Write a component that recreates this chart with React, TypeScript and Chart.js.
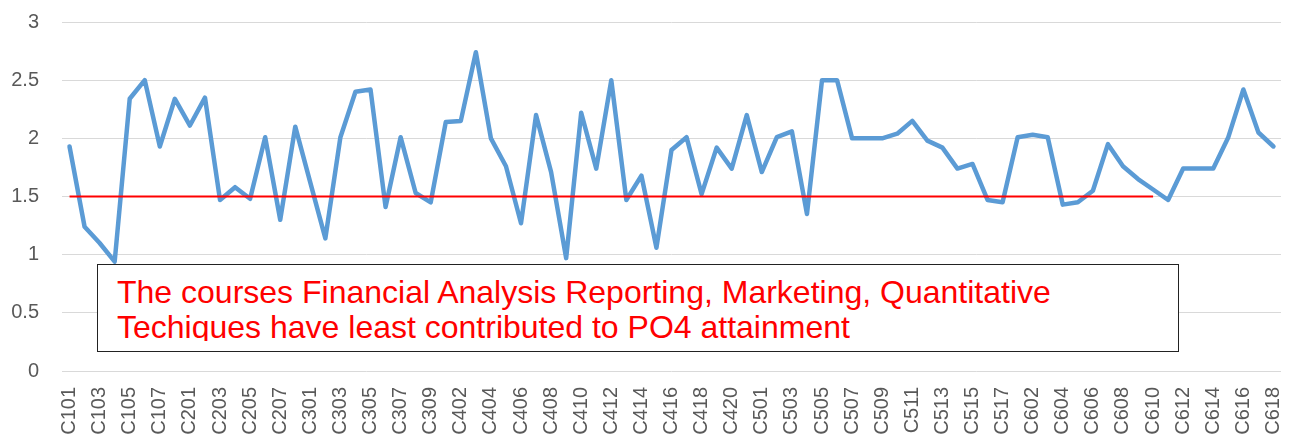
import React, { useEffect, useRef } from "react";
import { Chart, registerables } from "chart.js";

Chart.register(...registerables);

const courseCodes: string[] = [
  "C101", "C102", "C103", "C104", "C105", "C106", "C107", "C108",
  "C201", "C202", "C203", "C204", "C205", "C206", "C207", "C208",
  "C301", "C302", "C303", "C304", "C305", "C306", "C307", "C308", "C309",
  "C401", "C402", "C403", "C404", "C405", "C406", "C407", "C408", "C409", "C410",
  "C411", "C412", "C413", "C414", "C415", "C416", "C417", "C418", "C419", "C420", "C421",
  "C501", "C502", "C503", "C504", "C505", "C506", "C507", "C508", "C509", "C510",
  "C511", "C512", "C513", "C514", "C515", "C516", "C517",
  "C601", "C602", "C603", "C604", "C605", "C606", "C607", "C608", "C609", "C610",
  "C611", "C612", "C613", "C614", "C615", "C616", "C617", "C618",
];

const po4Attainment: number[] = [
  1.93, 1.24, 1.10, 0.94, 2.34, 2.50, 1.93, 2.34,
  2.11, 2.35, 1.47, 1.58, 1.48, 2.01, 1.30, 2.10,
  1.62, 1.14, 2.01, 2.40, 2.42, 1.41, 2.01, 1.53, 1.45,
  2.14, 2.15, 2.74, 2.00, 1.76, 1.27, 2.20, 1.71, 0.97, 2.22,
  1.74, 2.50, 1.47, 1.68, 1.06, 1.90, 2.01, 1.52, 1.92, 1.74, 2.20,
  1.71, 2.01, 2.06, 1.35, 2.50, 2.50, 2.00, 2.00, 2.00, 2.04,
  2.15, 1.98, 1.92, 1.74, 1.78, 1.47, 1.45,
  2.01, 2.03, 2.01, 1.43, 1.45, 1.55, 1.95, 1.76, 1.65, 1.56,
  1.47, 1.74, 1.74, 1.74, 2.01, 2.42, 2.05, 1.93,
];

const thresholdValue = 1.5;
const thresholdEndCourse = "C610";

const yTicks: number[] = [0, 0.5, 1, 1.5, 2, 2.5, 3];

const noteLines: string[] = [
  "The courses Financial Analysis Reporting, Marketing, Quantitative",
  "Techiques have least contributed to PO4 attainment",
];

const FONT = "'Liberation Sans', Arial, 'DejaVu Sans', sans-serif";

export default function App() {
  const canvasRef = useRef<HTMLCanvasElement | null>(null);

  useEffect(() => {
    document.body.style.margin = "0";
    const canvas = canvasRef.current;
    if (!canvas) return;
    const endIdx = courseCodes.indexOf(thresholdEndCourse);
    const thresholdData = courseCodes.map((_, i) => (i <= endIdx ? thresholdValue : null));

    const chart = new Chart(canvas, {
      type: "line",
      data: {
        labels: courseCodes,
        datasets: [
          {
            label: "Threshold",
            data: thresholdData,
            borderColor: "#FF0000",
            borderWidth: 2,
            pointRadius: 0,
            tension: 0,
            order: 0,
            spanGaps: false,
          },
          {
            label: "PO4",
            data: po4Attainment,
            borderColor: "#5B9BD5",
            borderWidth: 4.5,
            pointRadius: 0,
            tension: 0,
            borderJoinStyle: "round",
            borderCapStyle: "round",
            order: 1,
          },
        ],
      },
      options: {
        responsive: false,
        animation: false,
        layout: { padding: { top: 22, right: 18, left: 0, bottom: 0 } },
        plugins: {
          legend: { display: false },
          tooltip: { enabled: false },
        },
        scales: {
          x: {
            type: "category",
            offset: true,
            grid: { display: false, drawTicks: false },
            border: { display: false },
            ticks: {
              autoSkip: false,
              maxRotation: 90,
              minRotation: 90,
              padding: 16,
              color: "#595959",
              font: { family: FONT, size: 20 },
              callback: function (_v: any, index: number) {
                return index % 2 === 0 ? courseCodes[index] : "";
              },
            },
            afterFit: (scale: any) => {
              scale.height = 66;
              scale.paddingLeft = 0;
              scale.paddingRight = 0;
            },
          },
          y: {
            min: 0,
            max: 3,
            afterBuildTicks: (scale: any) => {
              scale.ticks = yTicks.map((v) => ({ value: v }));
            },
            grid: { color: "#D9D9D9", lineWidth: 1, drawTicks: false },
            border: { display: false },
            ticks: {
              padding: 23,
              color: "#595959",
              font: { family: FONT, size: 20 },
              callback: (v: any) => String(v),
            },
            afterFit: (scale: any) => {
              scale.width = 62;
              scale.paddingTop = 0;
              scale.paddingBottom = 0;
            },
          },
        },
      },
    });
    return () => chart.destroy();
  }, []);

  return (
    <div style={{ position: "relative", width: 1299, height: 437, background: "#fff" }}>
      <canvas ref={canvasRef} width={1299} height={437} style={{ display: "block" }} />
      <div
        style={{
          position: "absolute",
          left: 97,
          top: 264,
          width: 1082,
          height: 88,
          boxSizing: "border-box",
          border: "1px solid #222",
          background: "#fff",
        }}
      >
        <div
          style={{
            position: "absolute",
            left: 19,
            top: 10,
            height: 66,
            width: 1055,
            overflow: "hidden",
            color: "#FF0000",
            fontFamily: FONT,
            fontSize: 32,
            lineHeight: "35px",
            whiteSpace: "nowrap",
          }}
        >
          {noteLines.map((l, i) => (
            <div key={i}>{l}</div>
          ))}
        </div>
      </div>
    </div>
  );
}
